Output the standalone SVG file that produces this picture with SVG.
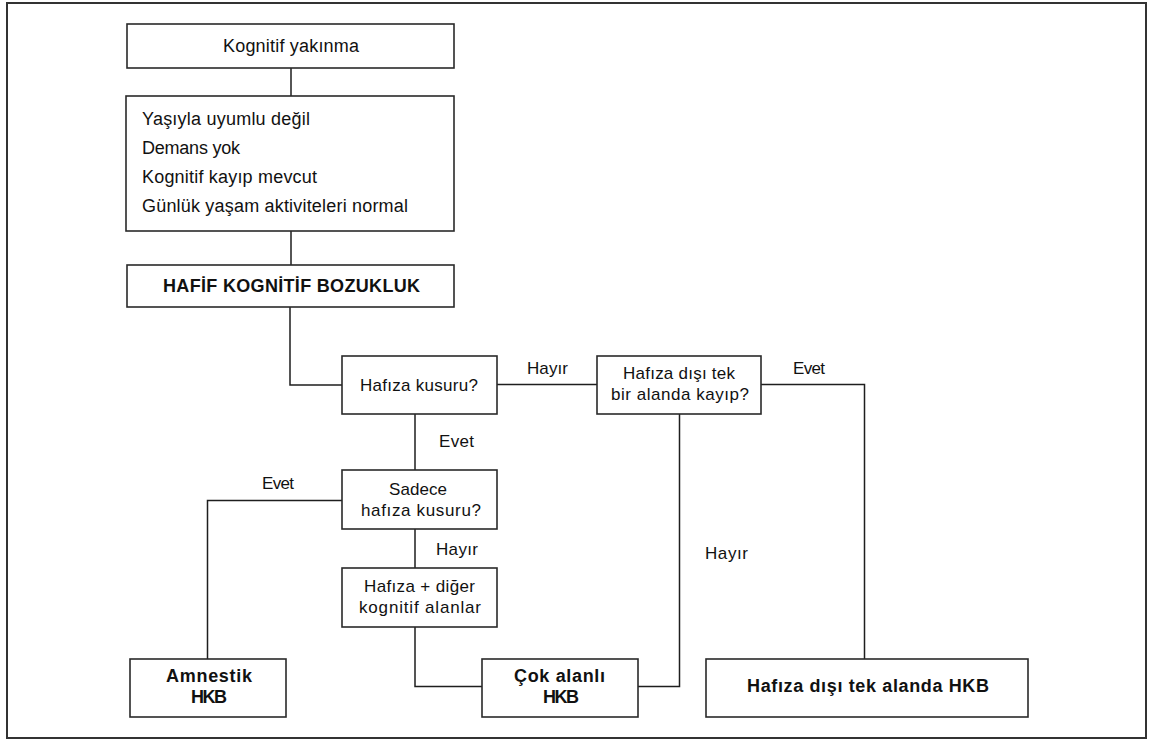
<svg xmlns="http://www.w3.org/2000/svg" width="1150" height="740" viewBox="0 0 1150 740">
<style>
.bg{fill:#ffffff}
.frame{fill:none;stroke:#333;stroke-width:2}
.box{fill:#ffffff;stroke:#2a2a2a;stroke-width:1.6}
.conn{fill:none;stroke:#1e1e1e;stroke-width:1.5}
.t{font-family:"Liberation Sans",Arial,sans-serif;font-size:17px;fill:#111}
.tl{font-family:"Liberation Sans",Arial,sans-serif;font-size:18px;fill:#111}
.b{font-family:"Liberation Sans",Arial,sans-serif;font-size:18px;font-weight:bold;fill:#111}
</style>
<rect class="bg" x="0" y="0" width="1150" height="740"/>
<rect class="frame" x="7" y="3" width="1139" height="735"/>

<g id="connectors">
<path class="conn" d="M291,68 V96"/>
<path class="conn" d="M291,231 V265"/>
<path class="conn" d="M290,307 V385 H342"/>
<path class="conn" d="M497,384.5 H597"/>
<path class="conn" d="M761,384.5 H864.5 V659"/>
<path class="conn" d="M415,414 V470"/>
<path class="conn" d="M342,500.5 H207.5 V659"/>
<path class="conn" d="M415,529 V568"/>
<path class="conn" d="M415,627 V686.5 H482"/>
<path class="conn" d="M638,686.5 H679.5 V414"/>
<text class="t" x="527" y="374" textLength="41">Hayır</text>
<text class="t" x="793" y="374" textLength="32">Evet</text>
<text class="t" x="439" y="446.5" textLength="35">Evet</text>
<text class="t" x="262" y="488.5" textLength="32">Evet</text>
<text class="t" x="436" y="554.5" textLength="42">Hayır</text>
<text class="t" x="705" y="559" textLength="43">Hayır</text>
</g>

<g id="n-kognitif-yakinma">
<rect class="box" x="127" y="24" width="327" height="44"/>
<text class="tl" x="223" y="51.5" textLength="136">Kognitif yakınma</text>
</g>

<g id="n-kriterler">
<rect class="box" x="126" y="96" width="328" height="135"/>
<text class="tl" x="142" y="125" textLength="168">Yaşıyla uyumlu değil</text>
<text class="tl" x="142" y="153.5" textLength="98">Demans yok</text>
<text class="tl" x="142" y="182.5" textLength="175">Kognitif kayıp mevcut</text>
<text class="tl" x="142" y="211.5" textLength="266">Günlük yaşam aktiviteleri normal</text>
</g>

<g id="n-hkb">
<rect class="box" x="127" y="265" width="327" height="42"/>
<text class="b" x="163" y="291.5" textLength="257">HAFİF KOGNİTİF BOZUKLUK</text>
</g>

<g id="n-hafiza-kusuru">
<rect class="box" x="342" y="356" width="155" height="58"/>
<text class="t" x="360" y="390.5" textLength="118">Hafıza kusuru?</text>
</g>

<g id="n-hafiza-disi">
<rect class="box" x="597" y="356" width="164" height="58"/>
<text class="t" x="623" y="379" textLength="112">Hafıza dışı tek</text>
<text class="t" x="611" y="400" textLength="138">bir alanda kayıp?</text>
</g>

<g id="n-sadece">
<rect class="box" x="342" y="470" width="155" height="59"/>
<text class="t" x="389" y="495" textLength="58">Sadece</text>
<text class="t" x="361" y="516" textLength="120">hafıza kusuru?</text>
</g>

<g id="n-hafiza-diger">
<rect class="box" x="342" y="568" width="155" height="59"/>
<text class="t" x="364" y="591.5" textLength="111">Hafıza + diğer</text>
<text class="t" x="359" y="612.5" textLength="122">kognitif alanlar</text>
</g>

<g id="n-amnestik">
<rect class="box" x="130" y="659" width="156" height="58"/>
<text class="b" x="166" y="682" textLength="86">Amnestik</text>
<text class="b" x="191" y="702.5" textLength="36">HKB</text>
</g>

<g id="n-cok-alanli">
<rect class="box" x="482" y="659" width="156" height="58"/>
<text class="b" x="514" y="682" textLength="91">Çok alanlı</text>
<text class="b" x="543" y="702.5" textLength="36">HKB</text>
</g>

<g id="n-tek-alan">
<rect class="box" x="706" y="659" width="322" height="58"/>
<text class="b" x="747" y="692" textLength="242">Hafıza dışı tek alanda HKB</text>
</g>
</svg>
